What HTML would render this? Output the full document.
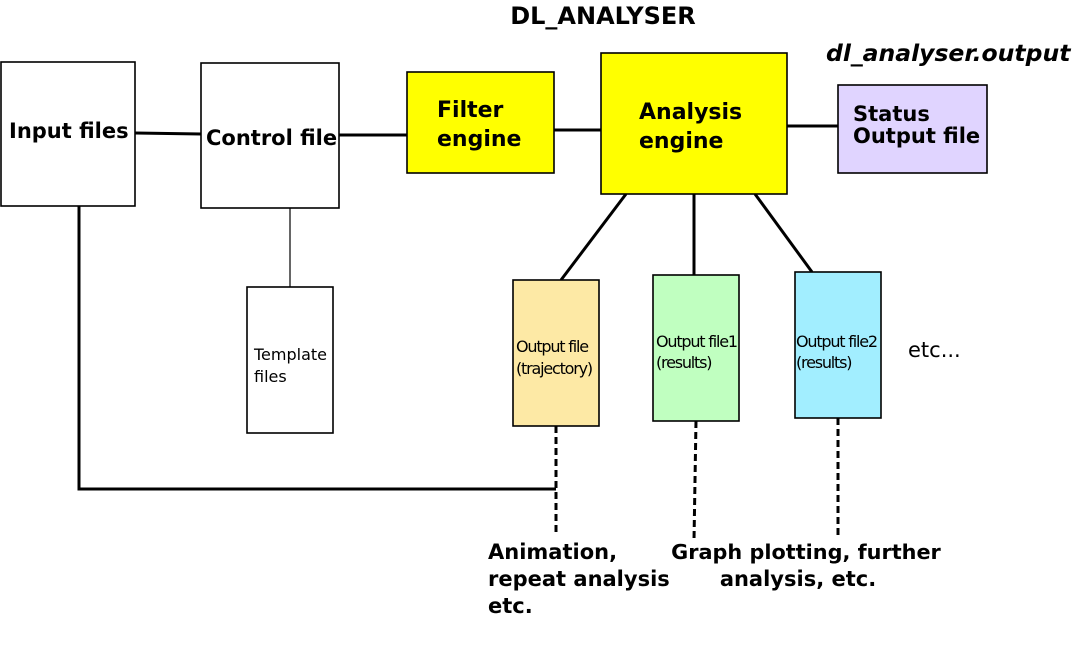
<!DOCTYPE html>
<html><head><meta charset="utf-8"><style>
html,body{margin:0;padding:0;background:#fff;width:1075px;height:661px;overflow:hidden}
svg text{font-family:"DejaVu Sans","Liberation Sans",sans-serif}
</style></head><body>
<svg width="1075" height="661" xmlns="http://www.w3.org/2000/svg">
<g stroke="#000" fill="none" stroke-width="3">
<line x1="135" y1="133" x2="201" y2="134"/>
<line x1="339" y1="135" x2="407" y2="135"/>
<line x1="554" y1="130" x2="601" y2="130"/>
<line x1="787" y1="126" x2="838" y2="126"/>
<line x1="626" y1="194" x2="561" y2="280"/>
<line x1="694" y1="194" x2="694" y2="275"/>
<line x1="755" y1="194" x2="812" y2="272"/>
<polyline points="79,206 79,489 556,489"/>
<line x1="556" y1="426" x2="556" y2="535" stroke-dasharray="7,4"/>
<line x1="696" y1="421" x2="694" y2="540" stroke-dasharray="7,4"/>
<line x1="838" y1="418" x2="838" y2="538" stroke-dasharray="7,4"/>
</g>
<line x1="290" y1="208" x2="290" y2="287" stroke="#000" stroke-width="1.2"/>
<g stroke="#000" stroke-width="1.6">
<rect x="1" y="62" width="134" height="144" fill="#fff"/>
<rect x="201" y="63" width="138" height="145" fill="#fff"/>
<rect x="407" y="72" width="147" height="101" fill="#ffff00"/>
<rect x="601" y="53" width="186" height="141" fill="#ffff00"/>
<rect x="838" y="85" width="149" height="88" fill="#e0d4ff"/>
<rect x="247" y="287" width="86" height="146" fill="#fff"/>
<rect x="513" y="280" width="86" height="146" fill="#fde9a5"/>
<rect x="653" y="275" width="86" height="146" fill="#c0ffc0"/>
<rect x="795" y="272" width="86" height="146" fill="#a2eeff"/>
</g>
<g font-weight="bold" font-size="21" fill="#000">
<text x="603" y="24" text-anchor="middle" font-size="24">DL_ANALYSER</text>
<text x="826" y="61" font-style="italic" font-size="23.5">dl_analyser.output</text>
<text x="9" y="138">Input files</text>
<text x="206" y="145">Control file</text>
<text x="437" y="117" font-size="22">Filter</text>
<text x="437" y="146" font-size="22">engine</text>
<text x="639" y="119" font-size="22">Analysis</text>
<text x="639" y="148" font-size="22">engine</text>
<text x="853" y="121">Status</text>
<text x="853" y="143">Output file</text>
<text x="488" y="559">Animation,</text>
<text x="488" y="586">repeat analysis</text>
<text x="488" y="613">etc.</text>
<text x="806" y="559" text-anchor="middle" font-size="20.8">Graph plotting, further</text>
<text x="798" y="586" text-anchor="middle">analysis, etc.</text>
</g>
<g font-size="17" fill="#000">
<text x="254" y="360" font-size="16">Template</text>
<text x="254" y="382" font-size="16">files</text>
<text x="908" y="357" font-size="21">etc...</text>
</g>
<g font-size="16" fill="#000" letter-spacing="-1.2">
<text x="516" y="352">Output file</text>
<text x="516" y="374">(trajectory)</text>
<text x="656" y="347">Output file1</text>
<text x="656" y="368">(results)</text>
<text x="796" y="347">Output file2</text>
<text x="796" y="368">(results)</text>
</g>
</svg>
</body></html>
